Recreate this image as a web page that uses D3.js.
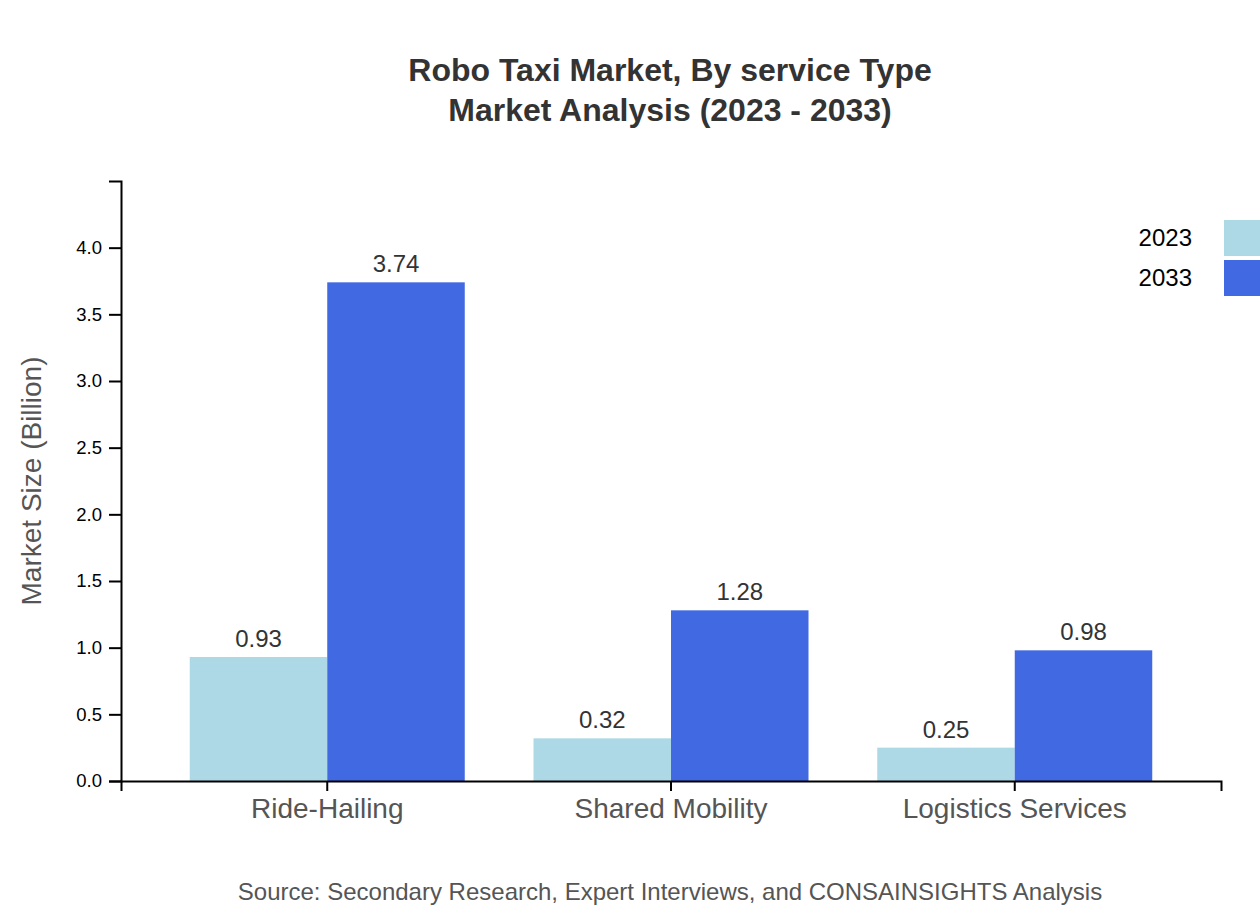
<!DOCTYPE html>
<meta charset="utf-8">
<script src="https://d3js.org/d3.v7.min.js"></script>
<style>
  body { margin: 0; background: #fff; font-family: "Liberation Sans", Arial, sans-serif; }
  .axis path, .axis line { stroke: #000; stroke-width: 2px; }
  .axis text { fill: #000; font-family: "Liberation Sans", Arial, sans-serif; }
</style>
<div id="chart"></div>
<script>
  const categories = ["Ride-Hailing", "Shared Mobility", "Logistics Services"];
  const years = ["2023", "2033"];
  const values2023 = [0.93, 0.32, 0.25];
  const values2033 = [3.74, 1.28, 0.98];
  const yTicks = [0, 0.5, 1, 1.5, 2, 2.5, 3, 3.5, 4];
  const colors = ["#add8e6", "#4169e1"];

  const margin = { top: 181, right: 39, bottom: 139, left: 121 },
    width = 1260 - margin.left - margin.right,
    height = 920 - margin.top - margin.bottom;

  const svg = d3.select("#chart")
    .append("svg")
    .attr("width", 1260)
    .attr("height", 920);

  const g = svg.append("g")
    .attr("transform", `translate(${margin.left},${margin.top})`);

  const data = categories.map((c, i) => ({ cat: c, vals: [values2023[i], values2033[i]] }));

  const x = d3.scaleBand().domain(categories).range([0, width]).padding(0.2);
  const x1 = d3.scaleBand().domain(years).range([0, x.bandwidth()]);
  const y = d3.scaleLinear().domain([0, 4.5]).range([height, 0]);

  // bars
  const groups = g.selectAll(".grp")
    .data(data)
    .join("g")
    .attr("transform", d => `translate(${x(d.cat)},0)`);

  groups.selectAll("rect")
    .data(d => d.vals.map((v, j) => ({ year: years[j], v: v })))
    .join("rect")
    .attr("x", d => x1(d.year))
    .attr("y", d => y(d.v))
    .attr("width", x1.bandwidth())
    .attr("height", d => height - y(d.v))
    .attr("fill", (d, j) => colors[j]);

  groups.selectAll(".lbl")
    .data(d => d.vals.map((v, j) => ({ year: years[j], v: v })))
    .join("text")
    .attr("class", "lbl")
    .attr("x", d => x1(d.year) + x1.bandwidth() / 2)
    .attr("y", d => y(d.v) - 10)
    .attr("text-anchor", "middle")
    .style("font-size", "24px")
    .style("fill", "#333")
    .text(d => d.v.toFixed(2));

  // axes
  g.append("g")
    .attr("class", "axis")
    .attr("transform", `translate(0,${height})`)
    .call(d3.axisBottom(x).tickSizeOuter(10).tickSize(10))
    .selectAll("text")
    .attr("y", 17)
    .style("font-size", "28px")
    .style("fill", "#555");

  g.append("g")
    .attr("class", "axis")
    .call(d3.axisLeft(y).tickValues(yTicks).tickFormat(d3.format(".1f")).tickSize(12).tickPadding(7))
    .selectAll("text")
    .style("font-size", "18.5px");

  // y label
  svg.append("text")
    .attr("transform", `translate(41,${margin.top + height / 2}) rotate(-90)`)
    .attr("text-anchor", "middle")
    .style("font-size", "28px")
    .style("fill", "#555")
    .text("Market Size (Billion)");

  // title
  const title = svg.append("text")
    .attr("text-anchor", "middle")
    .style("font-size", "32px")
    .style("font-weight", "bold")
    .style("fill", "#333");
  title.append("tspan").attr("x", 670).attr("y", 81).text("Robo Taxi Market, By service Type");
  title.append("tspan").attr("x", 670).attr("y", 121).text("Market Analysis (2023 - 2033)");

  // legend
  const legend = svg.append("g").attr("transform", "translate(1224,220)");
  years.forEach((yr, i) => {
    legend.append("rect")
      .attr("x", 0)
      .attr("y", i * 40)
      .attr("width", 40)
      .attr("height", 36)
      .attr("fill", colors[i]);
    legend.append("text")
      .attr("x", -32)
      .attr("y", i * 40 + 18)
      .attr("dy", "0.35em")
      .attr("text-anchor", "end")
      .style("font-size", "24px")
      .style("fill", "#000")
      .text(yr);
  });

  // source
  svg.append("text")
    .attr("x", 670)
    .attr("y", 900)
    .attr("text-anchor", "middle")
    .style("font-size", "24px")
    .style("fill", "#555")
    .text("Source: Secondary Research, Expert Interviews, and CONSAINSIGHTS Analysis");
</script>
